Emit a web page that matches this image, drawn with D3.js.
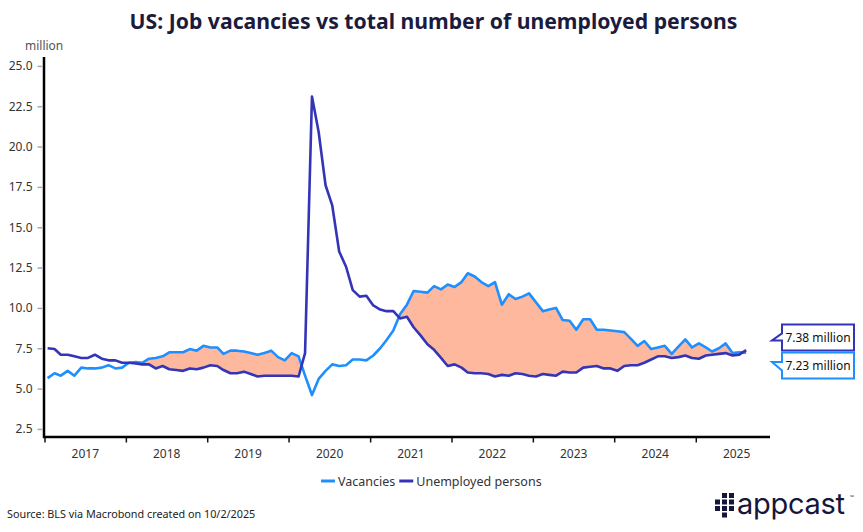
<!DOCTYPE html>
<html>
<head>
<meta charset="utf-8">
<script src="https://cdn.jsdelivr.net/npm/d3@7"></script>
<style>
  body { margin: 0; background: #fff; }
  svg text { font-family: "Noto Sans", "Open Sans", sans-serif; }
</style>
</head>
<body>
<div id="chart"></div>
<script>
// --- Data (millions, monthly from Jan 2017) ---
const firstMonth = [2017, 0];
const vacancies = [
  5.65, 5.95, 5.8, 6.1, 5.8, 6.3, 6.25, 6.25, 6.3, 6.45, 6.25, 6.3,      // 2017
  6.6, 6.65, 6.6, 6.85, 6.9, 7.0, 7.25, 7.25, 7.25, 7.45, 7.35, 7.65,    // 2018
  7.55, 7.55, 7.15, 7.35, 7.35, 7.3, 7.2, 7.1, 7.2, 7.35, 6.95, 6.75,    // 2019
  7.2, 7.0, 5.8, 4.6, 5.6, 6.1, 6.5, 6.4, 6.45, 6.8, 6.8, 6.75,          // 2020
  7.05, 7.5, 8.0, 8.6, 9.6, 10.2, 11.05, 11.0, 10.95, 11.35, 11.15, 11.45, // 2021
  11.3, 11.6, 12.15, 11.95, 11.6, 11.35, 11.6, 10.2, 10.85, 10.55, 10.7, 10.9, // 2022
  10.35, 9.8, 9.9, 10.0, 9.25, 9.2, 8.65, 9.3, 9.3, 8.65, 8.65, 8.6,     // 2023
  8.55, 8.5, 8.1, 7.65, 7.95, 7.45, 7.55, 7.65, 7.15, 7.6, 8.05, 7.55,   // 2024
  7.8, 7.55, 7.3, 7.5, 7.8, 7.2, 7.25, 7.23                              // 2025
];
const unemployed = [
  7.5, 7.45, 7.1, 7.1, 7.0, 6.9, 6.9, 7.1, 6.85, 6.75, 6.75, 6.6,        // 2017
  6.6, 6.55, 6.5, 6.5, 6.25, 6.4, 6.2, 6.15, 6.1, 6.25, 6.2, 6.3,        // 2018
  6.45, 6.4, 6.15, 5.95, 5.95, 6.05, 5.9, 5.75, 5.8, 5.8, 5.8, 5.8,      // 2019
  5.8, 5.75, 7.2, 23.1, 20.9, 17.6, 16.35, 13.5, 12.55, 11.1, 10.7, 10.75, // 2020
  10.15, 9.9, 9.8, 9.8, 9.35, 9.45, 8.8, 8.3, 7.75, 7.4, 6.9, 6.4,       // 2021
  6.5, 6.3, 6.0, 5.95, 5.95, 5.9, 5.75, 5.85, 5.8, 5.95, 5.9, 5.8,       // 2022
  5.75, 5.9, 5.85, 5.8, 6.05, 6.0, 6.0, 6.3, 6.35, 6.4, 6.25, 6.25,      // 2023
  6.1, 6.4, 6.45, 6.45, 6.6, 6.8, 7.0, 7.0, 6.9, 6.95, 7.05, 6.9,        // 2024
  6.85, 7.05, 7.1, 7.15, 7.2, 7.05, 7.1, 7.38                            // 2025
];
const years = [2017, 2018, 2019, 2020, 2021, 2022, 2023, 2024, 2025];
const yTicks = [2.5, 5, 7.5, 10, 12.5, 15, 17.5, 20, 22.5, 25];
const seriesNames = ['Vacancies', 'Unemployed persons'];
const seriesColors = ['#1e8fff', '#3434b8'];
const titleText = 'US: Job vacancies vs total number of unemployed persons';
const unitText = 'million';
const sourceText = 'Source: BLS via Macrobond created on 10/2/2025';

// --- Layout ---
const width = 863, height = 532;
const plot = { left: 44, right: 770, top: 57, bottom: 437 };

const svg = d3.select('#chart').append('svg')
  .attr('width', width)
  .attr('height', height);

const rows = vacancies.map((v, i) => ({
  date: d3.utcMonth.offset(new Date(Date.UTC(firstMonth[0], firstMonth[1], 15)), i),
  vac: v,
  unemp: unemployed[i]
}));

const x = d3.scaleUtc()
  .domain([new Date(Date.UTC(2017, 0, 1)), new Date(Date.UTC(2025, 10, 30))])
  .range([plot.left + 0.5, plot.right]);

const y = d3.scaleLinear()
  .domain([2, 25.55])
  .range([plot.bottom, plot.top]);

// Title
svg.append('text')
  .attr('x', width / 2 + 2)
  .attr('y', 29)
  .attr('text-anchor', 'middle')
  .attr('font-size', 21.2)
  .attr('font-weight', 700)
  .attr('fill', '#1b1b3d')
  .text(titleText);

svg.append('text')
  .attr('x', 25)
  .attr('y', 50)
  .attr('font-size', 12)
  .attr('fill', '#555')
  .text(unitText);

// Y axis (labels + grey ticks)
const yAxis = svg.append('g')
  .attr('transform', `translate(${plot.left - 2},0)`)
  .call(d3.axisLeft(y).tickValues(yTicks).tickFormat(d3.format('.1f')).tickSize(4.5).tickPadding(5));
yAxis.select('.domain').remove();
yAxis.selectAll('.tick line').attr('stroke', '#a8a8b4').attr('stroke-width', 1.5);
yAxis.selectAll('.tick text').attr('font-size', 12).attr('fill', '#333');

// X axis: year ticks at year start, labels mid-year
const xAxis = svg.append('g')
  .attr('transform', `translate(0,${plot.bottom})`)
  .call(d3.axisBottom(x)
    .tickValues(years.map(yr => new Date(Date.UTC(yr, 0, 1))))
    .tickFormat('')
    .tickSize(5.5));
xAxis.select('.domain').remove();
xAxis.selectAll('.tick line').attr('stroke', '#111').attr('stroke-width', 1.5);

const xLabels = svg.append('g')
  .attr('transform', `translate(0,${plot.bottom})`)
  .call(d3.axisBottom(x)
    .tickValues(years.map(yr => new Date(Date.UTC(yr, 6, 1))))
    .tickFormat(d3.utcFormat('%Y'))
    .tickSize(0)
    .tickPadding(12));
xLabels.select('.domain').remove();
xLabels.selectAll('.tick text').attr('font-size', 12).attr('fill', '#333');

// Difference fill where vacancies > unemployed
const clipAbove = d3.area()
  .x(d => x(d.date))
  .y0(0)
  .y1(d => y(d.unemp));
svg.append('defs').append('clipPath')
  .attr('id', 'above-unemp')
  .append('path')
  .attr('d', clipAbove(rows));

const between = d3.area()
  .x(d => x(d.date))
  .y0(d => y(d.unemp))
  .y1(d => y(d.vac));
svg.append('path')
  .datum(rows)
  .attr('clip-path', 'url(#above-unemp)')
  .attr('fill', '#fdb89e')
  .attr('d', between);

// Lines
const lineVac = d3.line().x(d => x(d.date)).y(d => y(d.vac));
const lineUnemp = d3.line().x(d => x(d.date)).y(d => y(d.unemp));
svg.append('path')
  .datum(rows)
  .attr('fill', 'none')
  .attr('stroke', seriesColors[0])
  .attr('stroke-width', 2.6)
  .attr('stroke-linejoin', 'round')
  .attr('d', lineVac);
svg.append('path')
  .datum(rows)
  .attr('fill', 'none')
  .attr('stroke', seriesColors[1])
  .attr('stroke-width', 2.6)
  .attr('stroke-linejoin', 'round')
  .attr('d', lineUnemp);

// Axis lines (black)
svg.append('line')
  .attr('x1', plot.left).attr('x2', plot.left)
  .attr('y1', plot.top).attr('y2', plot.bottom + 1)
  .attr('stroke', '#000').attr('stroke-width', 2.5);
svg.append('line')
  .attr('x1', plot.left - 1).attr('x2', plot.right)
  .attr('y1', plot.bottom).attr('y2', plot.bottom)
  .attr('stroke', '#000').attr('stroke-width', 2.5);

// End-value callouts
const last = rows[rows.length - 1];
const mid = (y(last.vac) + y(last.unemp)) / 2;
const boxL = 782, boxR = 854, boxH = 26, tipX = 772;
const callouts = [
  { value: last.unemp, color: seriesColors[1], top: mid - 27, dir: 'down' },
  { value: last.vac, color: seriesColors[0], top: mid + 1, dir: 'up' }
];
callouts.forEach(c => {
  const t = c.top, b = c.top + boxH;
  let p;
  if (c.dir === 'down') {
    p = `M${boxL},${t}H${boxR}V${b}H${boxL}V${t + 16}H${tipX}L${boxL},${t + 9}Z`;
  } else {
    p = `M${boxL},${t}H${boxR}V${b}H${boxL}V${t + 18}L${tipX},${t + 9.5}H${boxL}Z`;
  }
  svg.append('path')
    .attr('d', p)
    .attr('fill', '#fff')
    .attr('stroke', c.color)
    .attr('stroke-width', 2)
    .attr('stroke-linejoin', 'miter');
  svg.append('text')
    .attr('x', (boxL + boxR) / 2)
    .attr('y', t + boxH / 2 + 4.3)
    .attr('text-anchor', 'middle')
    .attr('font-size', 12)
    .attr('fill', '#111')
    .text(d3.format('.2f')(c.value) + ' million');
});

// Legend
const legend = svg.append('g').attr('transform', 'translate(321,481)');
let lx = 0;
seriesNames.forEach((name, i) => {
  legend.append('line')
    .attr('x1', lx).attr('x2', lx + 14)
    .attr('y1', 0).attr('y2', 0)
    .attr('stroke', seriesColors[i])
    .attr('stroke-width', 3);
  const t = legend.append('text')
    .attr('x', lx + 17)
    .attr('y', 4.5)
    .attr('font-size', 12.5)
    .attr('fill', '#333')
    .text(name);
  lx += 17 + t.node().getComputedTextLength() + 4;
});

// Source
svg.append('text')
  .attr('x', 7)
  .attr('y', 518)
  .attr('font-size', 10.8)
  .attr('fill', '#222')
  .text(sourceText);

// appcast logo
const logo = svg.append('g').attr('transform', 'translate(715,493)').attr('fill', '#16163a');
const cells = [[0, 1], [0, 2], [1, 0], [1, 1], [1, 2], [1, 3], [2, 0], [2, 1], [2, 2]];
cells.forEach(([c, r]) => {
  logo.append('rect')
    .attr('x', c * 7).attr('y', r * 6.5)
    .attr('width', 5).attr('height', 5);
});
logo.append('text')
  .attr('x', 22)
  .attr('y', 21)
  .attr('font-size', 29)
  .style('font-family', 'Inter, "Noto Sans", sans-serif')
  .attr('letter-spacing', -0.3)
  .text('appcast');
logo.append('text')
  .attr('x', 135)
  .attr('y', 6)
  .attr('font-size', 5)
  .text('™');
</script>
</body>
</html>
